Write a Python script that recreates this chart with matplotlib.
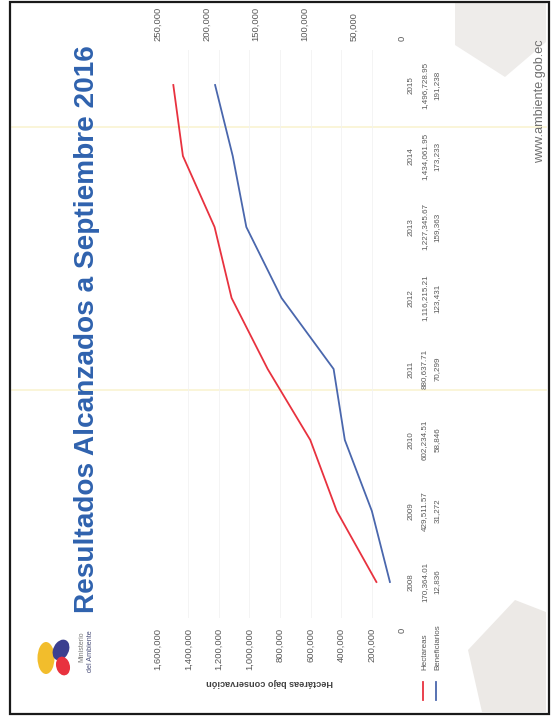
import numpy as np
import matplotlib
matplotlib.use("Agg")
import matplotlib.pyplot as plt
from matplotlib import transforms
from matplotlib.patches import Polygon, Rectangle, Ellipse

# data read from the (rotated) slide
years = ["2008", "2009", "2010", "2011", "2012", "2013", "2014", "2015"]
hectareas = [170364.01, 429511.57, 602234.51, 880637.71, 1116215.21,
             1227345.67, 1434061.95, 1496728.95]
beneficiarios = [12836, 31272, 58846, 70299, 123431, 159363, 173233, 191238]
hect_ticks = [0, 200000, 400000, 600000, 800000, 1000000, 1200000, 1400000, 1600000]
benef_ticks = [0, 50000, 100000, 150000, 200000, 250000]

W, H = 555, 718
RED = "#e8323f"
BLUE = "#4a67ad"
GREY = "#595959"
FONT = "Liberation Sans"


def px(x, y):
    # pixel (from top-left) -> figure fraction
    return x / W, 1 - y / H


fig = plt.figure(figsize=(W / 100, H / 100), dpi=100)
fig.patch.set_facecolor("white")

# scan shading / page border
for pts, col in [
    ([(455, 3), (546, 3), (546, 42), (505, 77), (455, 45)], "#eeecea"),
    ([(468, 650), (515, 600), (546, 612), (546, 712), (482, 712)], "#ece9e6"),
]:
    fig.patches.append(Polygon([px(*p) for p in pts], closed=True,
                               transform=fig.transFigure, facecolor=col,
                               edgecolor="none", zorder=0))
for yy in [127, 390]:
    x0, y0 = px(12, yy)
    x1, _ = px(546, yy)
    fig.add_artist(plt.Line2D([x0, x1], [y0, y0], transform=fig.transFigure,
                              color="#faf3d2", lw=1.2, zorder=0))
bx, by = px(10, 714)
bw = (548.5 - 10) / W
bh = (714 - 1.5) / H
fig.patches.append(Rectangle((bx, by), bw, bh, transform=fig.transFigure,
                             fill=False, edgecolor="#1a1a1a", lw=1.6, zorder=5))

# plot area (value axis runs right -> left, years bottom -> top)
left, bottom = px(157.5, 617.5)
right, top = px(402.5, 49.5)
ax = fig.add_axes([left, bottom, right - left, top - bottom])
ax.patch.set_alpha(0)
idx = np.arange(len(years))
ax.plot(hectareas, idx, color=RED, lw=1.3)
ax.set_xlim(1600000, 0)
ax.set_ylim(-0.5, len(years) - 0.5)
ax.set_yticks([])
ax.set_xticks(hect_ticks)
ax.set_xticklabels([f"{v:,}" for v in hect_ticks], rotation=90,
                   fontsize=6.8, color=GREY, family=FONT)
ax.tick_params(axis="x", length=0, pad=7.5)
ax.grid(axis="x", color="#f2f2f2", lw=0.6)
for s in ax.spines.values():
    s.set_visible(False)

ax2 = ax.twiny()
ax2.plot(beneficiarios, idx, color=BLUE, lw=1.3)
ax2.set_xlim(250000, 0)
ax2.set_xticks(benef_ticks)
ax2.set_xticklabels([f"{v:,}" for v in benef_ticks], rotation=90,
                    fontsize=6.8, color=GREY, family=FONT)
ax2.tick_params(axis="x", length=0, pad=6)
for s in ax2.spines.values():
    s.set_visible(False)

# data table below the plot (right side of the image)
tr = transforms.blended_transform_factory(fig.transFigure, ax.transData)
for i in idx:
    for xpix, txt in [(411, years[i]), (424.5, f"{hectareas[i]:,.2f}"),
                      (437, f"{beneficiarios[i]:,}")]:
        ax.text(xpix / W, i, txt, transform=tr, rotation=90,
                rotation_mode="anchor", ha="center", va="center",
                fontsize=5.8, color=GREY, family=FONT, clip_on=False)

# legend keys of the table
for xpix, col, lab in [(424, RED, "Hectareas"), (437, BLUE, "Beneficiarios")]:
    x0, y0 = px(xpix - 1, 700)
    _, y1 = px(xpix, 682)
    fig.add_artist(plt.Line2D([x0, x0], [y0, y1], transform=fig.transFigure,
                              color=col, lw=1.3))
    fig.text(*px(xpix + 2.5, 670), lab, rotation=90, rotation_mode="anchor",
             ha="left", va="baseline", fontsize=5.8, color=GREY, family=FONT)

# axis title (upside down in the scan)
fig.text(*px(270, 682), "Hectáreas bajo conservación", rotation=180,
         ha="center", va="center", fontsize=6.6, fontweight="bold",
         color="#404040", family=FONT)

# slide title
fig.text(*px(94.5, 613), "Resultados Alcanzados a Septiembre 2016",
         rotation=90, rotation_mode="anchor", ha="left", va="baseline",
         fontsize=20.2, fontweight="bold", color="#2f62ae", family=FONT)

# url
fig.text(*px(543, 163), "www.ambiente.gob.ec", rotation=90,
         rotation_mode="anchor", ha="left", va="baseline",
         fontsize=9.1, color="#6f6f6f", family=FONT)

# ministry logo
for (cx, cy, w, h, ang, col) in [(46, 658, 17, 32, 0, "#f2bd2c"),
                                 (61, 650, 14, 24, -50, "#3b3f8f"),
                                 (63, 666, 13, 20, 40, "#e8323f")]:
    xy = px(cx, cy)
    fig.patches.append(Ellipse(xy, w / W, h / H, angle=ang,
                               transform=fig.transFigure, facecolor=col,
                               edgecolor="none", zorder=2))
fig.text(*px(82, 647), "Ministerio", rotation=90, ha="center", va="center",
         fontsize=5, color="#7a7a7a", family=FONT)
fig.text(*px(91, 651), "del Ambiente", rotation=90, ha="center", va="center",
         fontsize=5.2, color="#4a4f7a", family=FONT)

fig.savefig("out.png", dpi=100)
